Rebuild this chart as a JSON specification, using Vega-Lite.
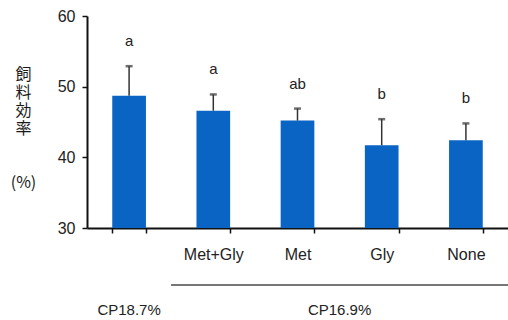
{
  "$schema": "https://vega.github.io/schema/vega-lite/v6.json",
  "width": 421,
  "height": 212,
  "autosize": "none",
  "padding": {"left": 87, "top": 16, "right": 0, "bottom": 92},
  "background": "white",
  "config": {
    "view": {"stroke": null},
    "font": "Liberation Sans",
    "axis": {"labelFont": "Liberation Sans", "titleFont": "Noto Sans CJK JP"}
  },
  "datasets": {
    "bars": [
      {"trt": "CP18.7%", "mean": 48.7, "hi": 52.9, "sig": "a"},
      {"trt": "Met+Gly", "mean": 46.6, "hi": 48.9, "sig": "a"},
      {"trt": "Met", "mean": 45.2, "hi": 46.9, "sig": "ab"},
      {"trt": "Gly", "mean": 41.7, "hi": 45.4, "sig": "b"},
      {"trt": "None", "mean": 42.4, "hi": 44.8, "sig": "b"}
    ],
    "groups": [
      {"name": "CP18.7%", "pos": 0.5},
      {"name": "CP16.9%", "pos": 3}
    ]
  },
  "resolve": {"scale": {"x": "independent"}, "axis": {"x": "independent"}},
  "layer": [
    {
      "data": {"name": "bars"},
      "layer": [
        {
          "mark": {"type": "bar", "color": "#0A64C4"},
          "encoding": {
            "x": {
              "field": "trt", "type": "nominal", "sort": null,
              "scale": {"paddingInner": 0.6, "paddingOuter": 0.3},
              "axis": {
                "title": null, "labelAngle": 0, "tickBand": "extent",
                "labelExpr": "datum.value == 'CP18.7%' ? '' : datum.value",
                "labelFontSize": 16, "labelColor": "#222", "labelPadding": 13,
                "domainColor": "#111", "domainWidth": 2,
                "tickColor": "#111", "tickSize": 5, "tickWidth": 1.5
              }
            },
            "y": {
              "field": "mean", "type": "quantitative",
              "scale": {"domain": [30, 60], "nice": false, "zero": false},
              "axis": {
                "values": [30, 40, 50, 60], "grid": false,
                "labelFontSize": 16, "labelColor": "#222", "labelPadding": 7,
                "domainColor": "#111", "domainWidth": 2,
                "tickColor": "#111", "tickSize": 5, "tickWidth": 1.5,
                "title": ["飼", "料", "効", "率", "\u200b", "\u200b", "(%)"],
                "titleAngle": 0, "titleFontSize": 16, "titleFontWeight": "normal",
                "titleColor": "#1a1a1a", "titleLineHeight": 18,
                "titleAlign": "center", "titleBaseline": "top",
                "titleX": -64, "titleY": 50
              }
            },
            "y2": {"datum": 30}
          }
        },
        {
          "mark": {"type": "rule", "color": "#333", "strokeWidth": 1.5},
          "encoding": {
            "x": {"field": "trt", "type": "nominal", "sort": null},
            "y": {"field": "mean", "type": "quantitative"},
            "y2": {"field": "hi"}
          }
        },
        {
          "mark": {"type": "tick", "color": "#333", "thickness": 2.5, "size": 7, "orient": "horizontal"},
          "encoding": {
            "x": {"field": "trt", "type": "nominal", "sort": null},
            "y": {"field": "hi", "type": "quantitative"}
          }
        },
        {
          "mark": {"type": "text", "dy": -25, "fontSize": 15, "color": "#222", "baseline": "middle"},
          "encoding": {
            "x": {"field": "trt", "type": "nominal", "sort": null},
            "y": {"field": "hi", "type": "quantitative"},
            "text": {"field": "sig"}
          }
        }
      ]
    },
    {
      "data": {"name": "groups"},
      "layer": [
        {
          "mark": {"type": "text", "fontSize": 15, "color": "#222", "baseline": "middle"},
          "encoding": {
            "x": {"field": "pos", "type": "quantitative", "scale": {"domain": [0, 5], "nice": false, "zero": false}, "axis": null},
            "y": {"datum": 18.4, "type": "quantitative"},
            "text": {"field": "name"}
          }
        },
        {
          "mark": {"type": "rule", "color": "#777", "strokeWidth": 2},
          "encoding": {
            "x": {"datum": 1, "type": "quantitative", "scale": {"domain": [0, 5], "nice": false, "zero": false}, "axis": null},
            "x2": {"datum": 5},
            "y": {"datum": 21.93, "type": "quantitative"}
          }
        }
      ]
    }
  ]
}
